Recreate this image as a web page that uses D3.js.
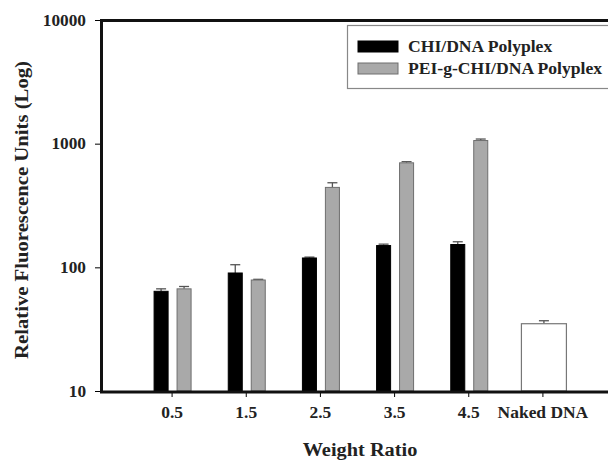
<!DOCTYPE html>
<html>
<head>
<meta charset="utf-8">
<script src="https://cdn.jsdelivr.net/npm/d3@7"></script>
<style>
  body { margin: 0; background: #fff; }
  text { font-family: "Liberation Serif", "Times New Roman", serif; font-weight: bold; fill: #222; }
</style>
</head>
<body>
<script>
// values
const ratios = ["0.5", "1.5", "2.5", "3.5", "4.5"];
const categories = ratios.concat(["Naked DNA"]);
const series = ["CHI/DNA Polyplex", "PEI-g-CHI/DNA Polyplex"];
const chiValues = [64, 90, 119, 150, 153];
const chiErrors = [3, 15, 2, 4, 8];
const peiValues = [67, 79, 443, 700, 1060];
const peiErrors = [3, 1, 40, 15, 30];
const nakedValue = 35;
const nakedError = 2;
const yTicks = [10, 100, 1000, 10000];

const width = 608, height = 461;
const mLeft = 100, mTop = 20, mBottom = 391, mRight = 608;

const svg = d3.select("body").append("svg")
    .attr("width", width)
    .attr("height", height);

// the original type is a little wider than Liberation Serif
function stretch(sel, k) {
    sel.each(function () {
        const w = this.getComputedTextLength();
        d3.select(this).attr("textLength", w * k).attr("lengthAdjust", "spacingAndGlyphs");
    });
}

const y = d3.scaleLog().domain([10, 10000]).range([mBottom, mTop]);
const x = d3.scaleBand().domain(categories).range([135, 580]);
const xs = d3.scaleBand().domain(series).range([-18, 19]).paddingInner(0.39);
const fills = {"CHI/DNA Polyplex": "#000", "PEI-g-CHI/DNA Polyplex": "#a9a9a9"};
const strokes = {"CHI/DNA Polyplex": "#000", "PEI-g-CHI/DNA Polyplex": "#6e6e6e"};

const rows = [];
ratios.forEach((r, i) => {
    rows.push({cat: r, s: series[0], v: chiValues[i], e: chiErrors[i]});
    rows.push({cat: r, s: series[1], v: peiValues[i], e: peiErrors[i]});
});

function barX(d) {
    return x(d.cat) + x.bandwidth() / 2 + xs(d.s);
}

// error bars (upper only)
const errG = svg.append("g").attr("stroke", "#555").attr("stroke-width", 1.3);
rows.forEach(d => {
    const cx = barX(d) + xs.bandwidth() / 2;
    errG.append("line").attr("x1", cx).attr("x2", cx).attr("y1", y(d.v)).attr("y2", y(d.v + d.e));
    errG.append("line").attr("x1", cx - 5).attr("x2", cx + 5).attr("y1", y(d.v + d.e)).attr("y2", y(d.v + d.e));
});

svg.append("g").selectAll("rect")
    .data(rows)
    .join("rect")
    .attr("x", d => barX(d))
    .attr("y", d => y(d.v))
    .attr("width", xs.bandwidth())
    .attr("height", d => y(10) - y(d.v))
    .attr("fill", d => fills[d.s])
    .attr("stroke", d => strokes[d.s])
    .attr("stroke-width", 1);

// naked DNA bar
const nx = x("Naked DNA") + x.bandwidth() / 2 + 1;
errG.append("line").attr("x1", nx).attr("x2", nx).attr("y1", y(nakedValue)).attr("y2", y(nakedValue + nakedError));
errG.append("line").attr("x1", nx - 5).attr("x2", nx + 5)
    .attr("y1", y(nakedValue + nakedError)).attr("y2", y(nakedValue + nakedError));
svg.append("rect")
    .attr("x", nx - 22.5)
    .attr("y", y(nakedValue))
    .attr("width", 45)
    .attr("height", y(10) - y(nakedValue))
    .attr("fill", "#fff")
    .attr("stroke", "#777")
    .attr("stroke-width", 1.2);

// axes
const yAxis = svg.append("g")
    .attr("transform", `translate(${mLeft},0)`)
    .call(d3.axisLeft(y).tickValues(yTicks).tickFormat(d3.format("d")).tickSize(5).tickPadding(9));
yAxis.select(".domain").remove();
yAxis.selectAll("text").style("font-size", "16px").attr("fill", "#222").call(stretch, 1.08);

const xAxis = svg.append("g")
    .attr("transform", `translate(0,${mBottom + 1})`)
    .call(d3.axisBottom(x).tickSize(5).tickPadding(10));
xAxis.select(".domain").remove();
xAxis.selectAll("text").style("font-size", "16px").attr("fill", "#222").call(stretch, 1.09);

svg.append("path")
    .attr("d", `M${mRight},${mTop + 0.5} H${mLeft + 1.5} V${mBottom + 1} H${mRight}`)
    .attr("fill", "none")
    .attr("stroke", "#111")
    .attr("stroke-width", 3);

// titles
svg.append("text")
    .attr("transform", "translate(28,210) rotate(-90)")
    .attr("text-anchor", "middle")
    .style("font-size", "18px")
    .text("Relative Fluorescence Units (Log)")
    .call(stretch, 1.15);

svg.append("text")
    .attr("x", 360)
    .attr("y", 456)
    .attr("text-anchor", "middle")
    .style("font-size", "18px")
    .text("Weight Ratio")
    .call(stretch, 1.13);

// legend
const lg = svg.append("g");
lg.append("rect")
    .attr("x", 347.5).attr("y", 25.5).attr("width", 262).attr("height", 63)
    .attr("fill", "#fff").attr("stroke", "#888").attr("stroke-width", 1.2);
series.forEach((s, i) => {
    const ly = 41 + i * 22;
    lg.append("rect")
        .attr("x", 358).attr("y", ly).attr("width", 40).attr("height", 11)
        .attr("fill", fills[s]).attr("stroke", strokes[s]);
    lg.append("text")
        .attr("x", 408).attr("y", ly + 11)
        .style("font-size", "16px")
        .text(s)
        .call(stretch, 1.1);
});
</script>
</body>
</html>
